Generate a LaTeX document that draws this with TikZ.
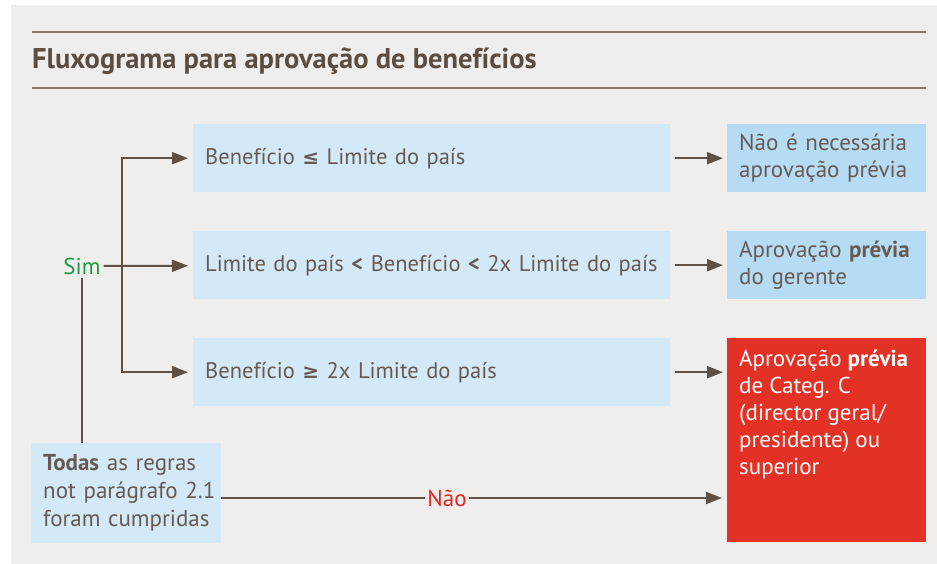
\documentclass[tikz,border=0pt]{standalone}
\usepackage{fontspec}
\setmainfont{PT Sans}
\newfontfamily\relfont{DejaVu Sans}
\usetikzlibrary{arrows.meta}
\definecolor{bggray}{HTML}{EFEEEC}
\definecolor{rulebrown}{HTML}{857870}
\definecolor{titlebrown}{HTML}{5C4D42}
\definecolor{txtbrown}{HTML}{685A50}
\definecolor{arrbrown}{HTML}{5E5044}
\definecolor{condblue}{HTML}{D3E9F8}
\definecolor{resblue}{HTML}{B5DBF5}
\definecolor{decred}{HTML}{E43125}
\definecolor{simgreen}{HTML}{1E9A46}
\definecolor{naored}{HTML}{E3261F}
\newcommand{\rel}[1]{{\relfont\bfseries\fontsize{20}{27}\selectfont #1}}
\tikzset{
	cond/.style={fill=condblue, anchor=north west, minimum width=477pt, minimum height=68pt,
		inner xsep=12pt, text=txtbrown, align=left, text width=453pt, font=\fontsize{22.5}{27}\selectfont},
	result/.style={fill=resblue, anchor=north west, minimum width=199pt, minimum height=68pt,
		inner xsep=12pt, text=txtbrown, align=left, text width=175pt},
	flow/.style={draw=arrbrown, line width=2pt, -{Triangle[length=16pt,width=12pt]}},
	plain/.style={draw=arrbrown, line width=2pt}
}
\begin{document}
\begin{tikzpicture}[x=1pt, y=-1pt, font=\fontsize{23}{27}\selectfont]
	\fill[bggray] (11,5) rectangle (937,564);
	\useasboundingbox (0,0) rectangle (937,564);
	
	% title
	\draw[rulebrown, line width=2pt] (32,32) -- (926,32);
	\draw[rulebrown, line width=2pt] (32,88) -- (926,88);
	\node[anchor=west, inner sep=0pt, text=titlebrown, font=\fontsize{28.5}{32}\selectfont\bfseries] (title) at (32,61) {Fluxograma para aprovação de benefícios};
	
	% conditions
	\node[cond] (c1) at (193,124) {\mbox{Benefício \rel{≤} Limite do país}};
	\node[cond] (c2) at (193,231) {\mbox{Limite do país \textbf{<} Benefício \textbf{<} 2x Limite do país}};
	\node[cond] (c3) at (193,338) {\mbox{Benefício \rel{≥} 2x Limite do país}};
	
	% results
	\node[result] (r1) at (727,124) {Não é necessária\\aprovação prévia};
	\node[result] (r2) at (727,231) {Aprovação \textbf{prévia}\\do gerente};
	\node[fill=decred, anchor=north west, minimum width=199pt, minimum height=204pt, inner sep=0pt] (r3) at (727,338) {};
	\node[anchor=north west, inner sep=0pt, text=white, align=left] (r3txt) at ([shift={(12,12)}]r3.north west) {Aprovação \textbf{prévia}\\de Categ. C\\(director geral/\\presidente) ou\\superior};
	
	% start
	\node[fill=condblue, anchor=north west, minimum width=190pt, minimum height=100pt, inner xsep=12pt,
		text=txtbrown, align=left, text width=166pt, font=\fontsize{23}{28}\selectfont] (todas) at (31,443)
		{\mbox{\textbf{Todas} as regras}\\\mbox{not parágrafo 2.1}\\\mbox{foram cumpridas}};
	\node[text=simgreen, inner sep=3pt] (sim) at (82,266) {Sim};
	\node[text=naored, inner sep=2pt] (nao) at (447,498) {Não};
	\coordinate (fork) at (122,266);
	
	% connectors
	\draw[plain] (sim.south |- todas.north) -- (sim.south);
	\draw[flow, shorten >=5pt] (sim) -- (c2);
	\draw[flow, shorten >=5pt] (fork) |- (c1);
	\draw[flow, shorten >=5pt] (fork) |- (c3);
	\draw[flow, shorten <=5pt, shorten >=4pt] (c1) -- (r1);
	\draw[flow, shorten <=5pt, shorten >=4pt] (c2) -- (r2);
	\draw[flow, shorten <=5pt, shorten >=4pt] (c3.east) -- (c3.east -| r3.west);
	\draw[plain] (todas.east |- nao) -- (nao);
	\draw[flow, shorten >=5pt] (nao) -- (nao -| r3.west);
\end{tikzpicture}
\end{document}
